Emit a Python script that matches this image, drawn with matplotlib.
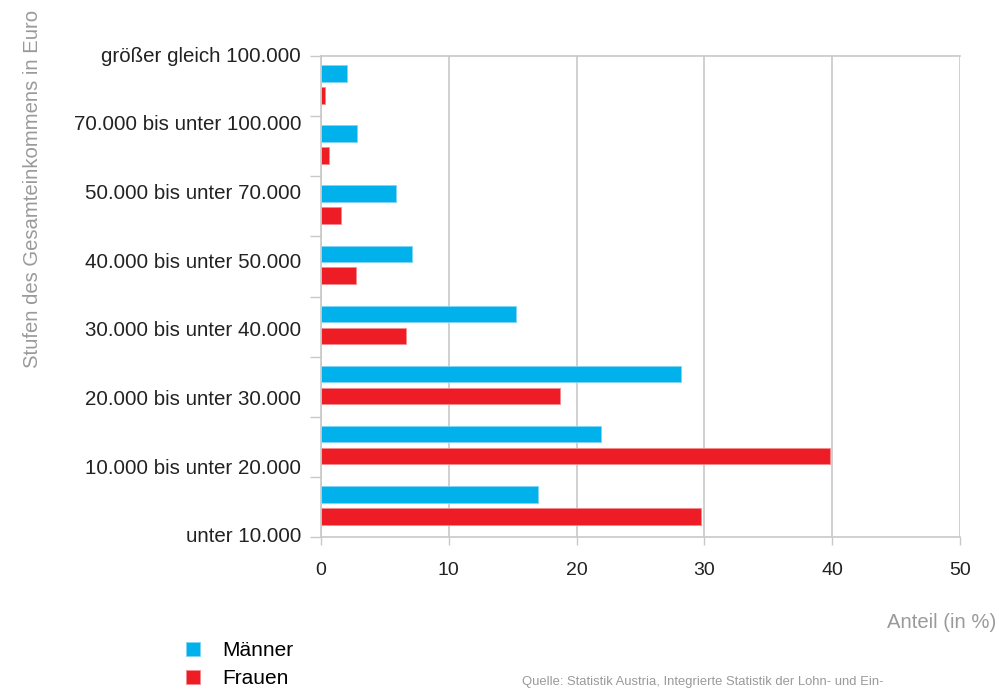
import matplotlib
matplotlib.use("Agg")
import matplotlib.pyplot as plt
import matplotlib.transforms as mtransforms

plt.rcParams['font.family'] = ['Liberation Sans', 'DejaVu Sans']

# income brackets, top to bottom
categories = ["größer gleich 100.000", "70.000 bis unter 100.000", "50.000 bis unter 70.000",
              "40.000 bis unter 50.000", "30.000 bis unter 40.000", "20.000 bis unter 30.000",
              "10.000 bis unter 20.000", "unter 10.000"]
maenner = [2.0, 2.85, 5.9, 7.1, 15.25, 28.2, 21.9, 17.0]
frauen = [0.3, 0.6, 1.6, 2.75, 6.65, 18.7, 39.8, 29.7]
xticks = [0, 10, 20, 30, 40, 50]

blue = '#00b1ec'
red = '#ee1d25'
grey_line = '#c8c8c8'
grey_text = '#9a9a9a'
dark = '#222222'

fig = plt.figure(figsize=(9.99, 6.91), dpi=100)
ax = fig.add_axes([321/999, 1 - 537/691, (960 - 321)/999, (537 - 56)/691])

n = len(categories)
ypos = list(range(n))
h_m = ax.barh([y + 0.29 for y in ypos], maenner, height=0.275, color=blue,
              edgecolor='#7fd5f3', linewidth=0.6, label='Männer')
h_f = ax.barh([y + 0.655 for y in ypos], frauen, height=0.275, color=red,
              edgecolor='#f58a8e', linewidth=0.6, label='Frauen')

ax.set_ylim(n, 0)
ax.set_xlim(0, 50)
ax.set_xticks(xticks)
ax.set_xticklabels([str(t) for t in xticks], fontsize=14, color=dark)
ax.set_yticks(range(n + 1))
ax.set_yticklabels([])
ax.tick_params(axis='y', length=8, color=grey_line, width=1)
ax.tick_params(axis='x', length=6, color=grey_line, width=1, pad=12)

ax.grid(axis='x', color=grey_line, linewidth=1.2)
ax.set_axisbelow(True)
for s in ['left', 'bottom', 'top']:
    ax.spines[s].set_color(grey_line)
    ax.spines[s].set_linewidth(1.2)
ax.spines['right'].set_visible(False)

# category labels are spread evenly from the top line to the bottom line
lab_tr = ax.get_yaxis_transform() + mtransforms.ScaledTranslation(-20/100, 0, fig.dpi_scale_trans)
for k, lab in enumerate(categories):
    ax.text(0, k * n / (n - 1), lab, transform=lab_tr,
            fontsize=14.8, color=dark, ha='right', va='center')

fig.text(33/999, 1 - 189/691, 'Stufen des Gesamteinkommens in Euro', rotation=90,
         fontsize=14.6, color=grey_text, ha='center', va='center')
fig.text(996/999, 1 - 622/691, 'Anteil (in %)', fontsize=14.6, color=grey_text,
         ha='right', va='center')

fig.legend(handles=[h_m, h_f], labels=['Männer', 'Frauen'], loc='upper left',
           bbox_to_anchor=(186/999, 1 - 641/691), frameon=False, fontsize=15,
           handlelength=0.67, handleheight=0.67, handletextpad=1.05, labelspacing=0.45,
           borderaxespad=0, borderpad=0)

fig.text(522/999, 1 - 682/691, 'Quelle: Statistik Austria, Integrierte Statistik der Lohn- und Ein-',
         fontsize=9.4, color=grey_text, ha='left', va='center')

fig.savefig('out.png', dpi=100)
